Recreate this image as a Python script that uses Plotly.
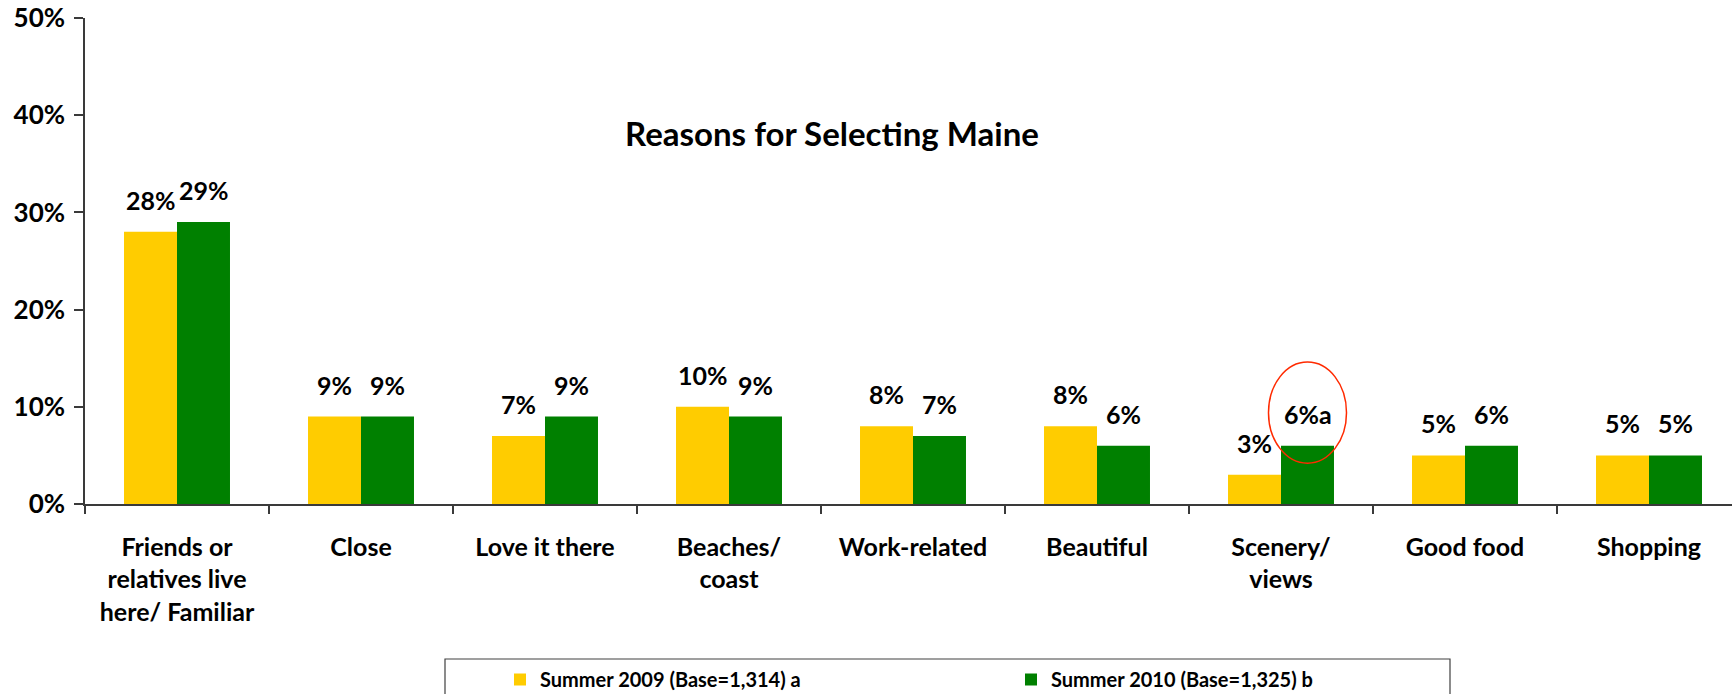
import plotly.graph_objects as go

categories = ["Friends or<br>relatives live<br>here/ Familiar", "Close", "Love it there",
              "Beaches/<br>coast", "Work-related", "Beautiful", "Scenery/<br>views",
              "Good food", "Shopping"]
summer_2009 = [28, 9, 7, 10, 8, 8, 3, 5, 5]
summer_2010 = [29, 9, 9, 9, 7, 6, 6, 6, 5]
sig_2009 = ["", "", "", "", "", "", "", "", ""]
sig_2010 = ["", "", "", "", "", "", "a", "", ""]
series_names = ["Summer 2009 (Base=1,314) a", "Summer 2010 (Base=1,325) b"]
highlight_category = "Scenery/<br>views"
y_ticks = [0, 10, 20, 30, 40, 50]
title_text = "Reasons for Selecting Maine"

FONT = "Lato"
colors = ["#FFCC00", "#008000"]
bargap = 0.424
bar_w = (1 - bargap) / 2

# figure fills the window (body margin removed via post_script)
W, H = 1732, 694
PL, PT, PB = 85, 18, 504          # plot area left / top / bottom in pixels
PW, PH = W - PL, PB - PT


def px_to_paper_x(sx):
    return (sx - PL) / PW


def px_to_paper_y(sy):
    return (PB - sy) / PH


fig = go.Figure()
for name, vals, col in zip(series_names, [summer_2009, summer_2010], colors):
    fig.add_trace(go.Bar(x=categories, y=vals, name=f"<b>{name}</b>",
                         marker=dict(color=col, line=dict(width=0))))

# data labels
for s, (vals, sig) in enumerate([(summer_2009, sig_2009), (summer_2010, sig_2010)]):
    off = (s - 0.5) * bar_w
    for j, (v, m) in enumerate(zip(vals, sig)):
        fig.add_annotation(x=j + off, y=v, xref="x", yref="y", text=f"<b>{v}%{m}</b>",
                           showarrow=False, yanchor="bottom", yshift=15,
                           font=dict(family=FONT, size=25, color="black"))

# red circle around the significant value
hj = categories.index(highlight_category)
hv = summer_2010[hj]
cx = hj + 0.5 * bar_w
fig.add_shape(type="circle", xref="x", yref="y", x0=cx - 0.212, x1=cx + 0.212,
              y0=hv - 1.8, y1=hv + 8.6, line=dict(color="#FF2A00", width=1.5))

# legend box
fig.add_shape(type="rect", xref="paper", yref="paper", x0=px_to_paper_x(445), x1=px_to_paper_x(1450),
              y0=px_to_paper_y(720), y1=px_to_paper_y(659), line=dict(color="#404040", width=1.2),
              fillcolor="white", layer="below")

fig.update_layout(
    width=W, height=H,
    margin=dict(l=PL, r=0, t=PT, b=H - PB, autoexpand=False),
    paper_bgcolor="white", plot_bgcolor="white",
    barmode="group", bargap=bargap, bargroupgap=0,
    font=dict(family=FONT, size=22, color="black"),
    title=dict(text=f"<b>{title_text}</b>", x=px_to_paper_x(832), xref="paper", xanchor="center",
               y=1 - 134 / H, yanchor="middle", font=dict(family=FONT, size=33, color="black")),
    showlegend=True,
    legend=dict(orientation="h", x=px_to_paper_x(500), xanchor="left", y=px_to_paper_y(660), yanchor="top",
                font=dict(family=FONT, size=20, color="black"), entrywidth=466, bgcolor="rgba(0,0,0,0)",
                itemclick=False),
    xaxis=dict(showline=True, linecolor="#3a3a3a", linewidth=1.5, ticks="outside", ticklen=8,
               tickcolor="#3a3a3a", tickwidth=1.5, tickson="boundaries", range=[-0.5, 8.5 - 9 / 184],
               ticklabelstandoff=20, tickfont=dict(family=FONT, size=25, color="black"),
               showgrid=False, tickprefix="<b>", ticksuffix="</b>", automargin=False),
    yaxis=dict(range=[0, 50], tickvals=y_ticks, ticktext=[f"<b>{t}%</b>" for t in y_ticks],
               showline=True, linecolor="#3a3a3a", linewidth=1.5, ticks="outside", ticklen=9,
               tickcolor="#3a3a3a", tickwidth=1.5, showgrid=False, zeroline=False,
               ticklabelstandoff=4, ticklabeloverflow="allow",
               tickfont=dict(family=FONT, size=26, color="black"), automargin=False),
)
fig.write_html("out.html", config={"displayModeBar": False},
               post_script="document.body.style.margin='0';document.body.style.overflow='hidden';")
